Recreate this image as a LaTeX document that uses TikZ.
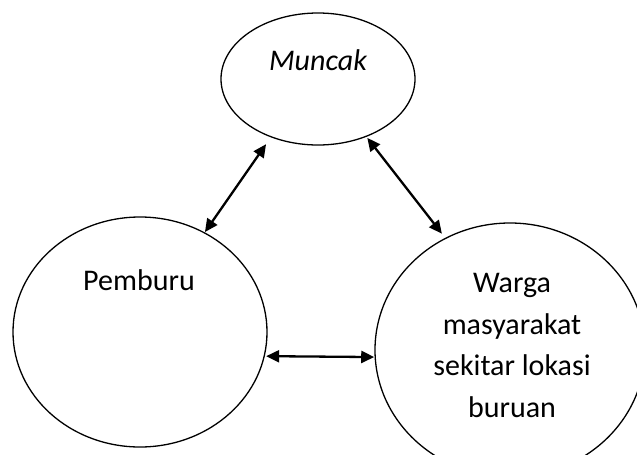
\documentclass[tikz,border=0pt]{standalone}
\usepackage{fontspec}
\setmainfont{Carlito}
\usetikzlibrary{shapes.geometric,arrows.meta}
\begin{document}
\begin{tikzpicture}[x=1pt,y=-1pt,
  bubble/.style={draw=black,line width=1.3pt,ellipse,inner sep=0pt,outer sep=0pt},
  lbl/.style={font=\fontsize{30}{41.5}\selectfont,inner sep=0pt,anchor=base,align=center},
  link/.style={line width=2.3pt,{Triangle[length=13pt,width=12pt]}-{Triangle[length=13pt,width=12pt]}}]
\useasboundingbox (0,0) rectangle (637,455);
\clip (0,0) rectangle (637,455);
\node[bubble,minimum width=194pt,minimum height=132pt] (m) at (318,79) {};
\node[bubble,minimum width=254pt,minimum height=230pt] (p) at (140,332) {};
\node[bubble,minimum width=270pt,minimum height=254pt] (w) at (510,350) {};
\node[lbl] (mt) at (318,70) {\itshape Muncak};
\node[lbl] (pt) at (139,290) {Pemburu};
\node[lbl] (wt) at (512,417) {Warga\\masyarakat\\sekitar lokasi\\buruan};
\draw[link,shorten <=9pt,shorten >=1pt] (m.231.5) -- (p.57);
\draw[link,shorten <=2pt,shorten >=6pt] (m.-50.8) -- (w.120.2);
\draw[link,shorten <=2pt,shorten >=1pt] (p.-11.2) -- (w.183);
\end{tikzpicture}
\end{document}
